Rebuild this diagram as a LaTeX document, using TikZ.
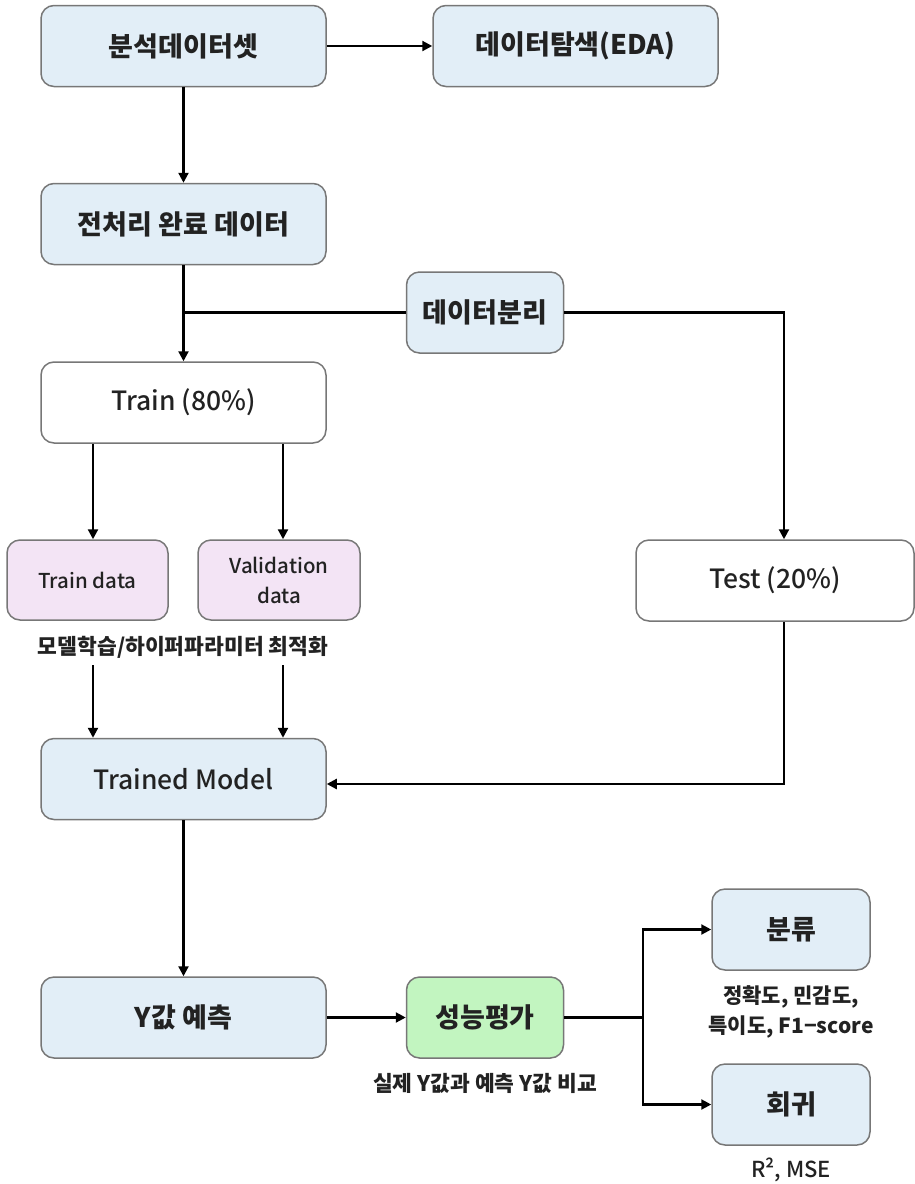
\documentclass[tikz,border=0pt]{standalone}
\usepackage{fontspec}
\setmainfont{Noto Sans CJK KR}
\newfontfamily\medfont{Noto Sans CJK KR Medium}
\usetikzlibrary{arrows.meta}
\definecolor{boxblue}{HTML}{E2EEF7}
\definecolor{boxpink}{HTML}{F3E4F5}
\definecolor{boxgreen}{HTML}{C2F5C0}
\definecolor{edgegray}{HTML}{777777}
\definecolor{txt}{HTML}{222222}
\begin{document}
\begin{tikzpicture}[x=1pt,y=-1pt,
  box/.style={draw=edgegray, line width=1.5pt, rounded corners=13pt, text=txt, align=center, inner sep=0pt},
  bluebox/.style={box, fill=boxblue},
  pinkbox/.style={box, fill=boxpink},
  greenbox/.style={box, fill=boxgreen},
  whitebox/.style={box, fill=white},
  wide/.style={minimum width=285pt, minimum height=81pt},
  narrow/.style={minimum width=157pt, minimum height=81pt},
  bigbold/.style={font=\fontsize{27}{30}\selectfont\bfseries},
  bigreg/.style={font=\fontsize{26.5}{30}\selectfont\medfont},
  smallreg/.style={font=\fontsize{20.5}{30}\selectfont\medfont},
  caption/.style={text=txt, align=center, inner sep=0pt, font=\fontsize{21.5}{30}\selectfont\bfseries},
  conn/.style={line width=2.2pt, -{Triangle[length=10pt,width=10pt]}},
  plain/.style={line width=2.2pt}
]
\useasboundingbox (0,0) rectangle (915,1184);

% nodes
\node[bluebox, wide, bigbold] (A) at (183.5,46) {분석데이터셋};
\node[bluebox, wide, bigbold] (B) at (575.5,46) {데이터탐색(EDA)};
\node[bluebox, wide, bigbold] (C) at (183.5,224) {전처리 완료 데이터};
\node[bluebox, narrow, bigbold] (D) at (485,312.5) {데이터분리};
\node[whitebox, wide, bigreg] (E) at (183.5,402.5) {Train (80\%)};
\node[pinkbox, minimum width=161pt, minimum height=80pt, smallreg] (F) at (87.5,580) {Train data};
\node[pinkbox, minimum width=162pt, minimum height=80pt, smallreg] (G) at (279,580) {Validation\\data};
\node[whitebox, minimum width=278pt, minimum height=81pt, bigreg] (H) at (775,580.5) {Test (20\%)};
\node[caption] (cap1) at (183,647) {모델학습/하이퍼파라미터 최적화};
\node[bluebox, wide, bigreg] (I) at (183.5,779) {Trained Model};
\node[bluebox, wide, bigbold] (J) at (183.5,1017.5) {Y값 예측};
\node[greenbox, narrow, bigbold] (K) at (485,1017.5) {성능평가};
\node[caption] (cap2) at (485,1083) {실제 Y값과 예측 Y값 비교};
\node[bluebox, minimum width=158pt, minimum height=81pt, bigbold] (L) at (791,929.5) {분류};
\node[caption, font=\fontsize{21}{30}\selectfont\bfseries] (cap3) at (791,1012) {정확도, 민감도,\\특이도, F1−score};
\node[bluebox, minimum width=158pt, minimum height=81pt, bigbold] (M) at (791,1104.5) {회귀};
\node[caption, font=\fontsize{22}{30}\selectfont\medfont] (cap4) at (791,1170) {R², MSE};

% helper coordinates
\coordinate (j1) at (183.5,312.5);
\coordinate (xt) at (784,0);
\coordinate (xf) at (93,0);
\coordinate (xg) at (283,0);
\coordinate (fb) at (93,665);
\coordinate (gb) at (283,665);
\coordinate (br) at (643,1017.5);

% connectors
\draw[conn] (A) -- (B);
\draw[conn] (A) -- (C);
\draw[conn] (C) -- (E);
\draw[plain] (D.west) -- (j1);
\draw[conn] (D.east) -| (H.north -| xt);
\draw[conn] (E.south -| xf) -- (F.north -| xf);
\draw[conn] (E.south -| xg) -- (G.north -| xg);
\draw[conn] (fb) -- (I.north -| fb);
\draw[conn] (gb) -- (I.north -| gb);
\draw[conn] (H.south -| xt) |- ([yshift=-5pt]I.east);
\draw[conn] (I) -- (J);
\draw[conn] (J) -- (K);
\draw[plain] (K.east) -- (br);
\draw[conn] (br) |- (L.west);
\draw[conn] (br) |- (M.west);
\end{tikzpicture}
\end{document}
